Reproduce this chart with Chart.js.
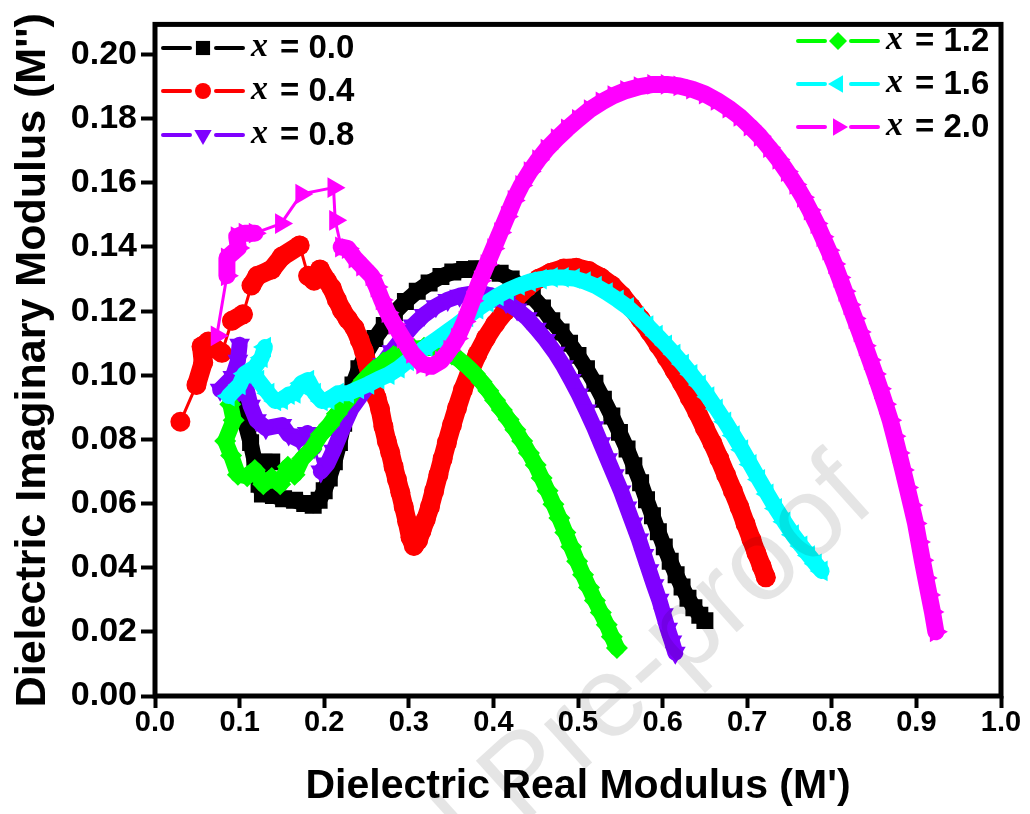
<!DOCTYPE html>
<html>
<head>
<meta charset="utf-8">
<title>Dielectric modulus Cole-Cole plot</title>
<script src="https://cdn.jsdelivr.net/npm/chart.js@4.4.0/dist/chart.umd.min.js"></script>
<style>
  html, body { margin: 0; padding: 0; background: #ffffff; }
</style>
</head>
<body>
<canvas id="modulus_plot" width="1030" height="814"></canvas>
<script>
// axis ticks
const xTicks = [0, 0.1, 0.2, 0.3, 0.4, 0.5, 0.6, 0.7, 0.8, 0.9, 1.0]
const yTicks = [0, 0.02, 0.04, 0.06, 0.08, 0.10, 0.12, 0.14, 0.16, 0.18, 0.20]

const seriesLabels = ['0.0', '0.4', '0.8', '1.2', '1.6', '2.0']

// x = 0.0
const mReal00 = [0.095,0.099,0.106,0.113,0.118,0.138,0.123,0.127,0.140,0.152,0.165,0.177,0.187,0.194,0.200,0.206,0.212,0.218,0.223,0.228,0.234,0.241,0.250,0.260,0.271,0.283,0.296,0.310,0.324,0.338,0.352,0.366,0.380,0.394,0.408,0.421,0.434,0.446,0.458,0.469,0.480,0.490,0.500,0.510,0.520,0.530,0.540,0.549,0.558,0.566,0.574,0.581,0.588,0.595,0.602,0.609,0.616,0.623,0.630,0.637,0.644,0.650]
const mImag00 = [0.099,0.092,0.086,0.079,0.073,0.073,0.066,0.063,0.0625,0.0615,0.061,0.060,0.0595,0.061,0.064,0.068,0.073,0.079,0.085,0.091,0.097,0.102,0.107,0.1115,0.1155,0.1195,0.123,0.1262,0.1288,0.1308,0.1322,0.133,0.1332,0.1328,0.1318,0.130,0.1275,0.1245,0.121,0.117,0.1135,0.110,0.1062,0.102,0.0975,0.0925,0.0873,0.0822,0.077,0.0718,0.0665,0.0612,0.0562,0.0512,0.0465,0.042,0.0378,0.034,0.0305,0.0275,0.0252,0.0235]

// x = 0.4
const mReal04 = [0.030,0.049,0.057,0.055,0.063,0.070,0.079,0.091,0.104,0.114,0.121,0.138,0.150,0.171,0.181,0.188,0.195,0.203,0.209,0.215,0.221,0.228,0.236,0.242,0.247,0.251,0.256,0.262,0.266,0.270,0.274,0.278,0.282,0.286,0.290,0.294,0.298,0.302,0.306,0.311,0.315,0.320,0.325,0.330,0.335,0.340,0.345,0.351,0.357,0.364,0.372,0.381,0.391,0.402,0.414,0.427,0.440,0.454,0.468,0.483,0.498,0.513,0.527,0.540,0.552,0.563,0.574,0.585,0.595,0.605,0.614,0.623,0.632,0.641,0.650,0.659,0.667,0.675,0.683,0.691,0.698,0.705,0.711,0.717,0.722]
const mImag04 = [0.0855,0.097,0.104,0.109,0.1105,0.1085,0.107,0.117,0.119,0.128,0.131,0.133,0.137,0.1405,0.131,0.1295,0.133,0.1295,0.1272,0.1235,0.1203,0.1175,0.1147,0.111,0.1075,0.1035,0.098,0.093,0.0895,0.084,0.0795,0.076,0.0715,0.0675,0.0635,0.059,0.0545,0.0495,0.0468,0.0485,0.0515,0.055,0.059,0.064,0.069,0.074,0.079,0.0845,0.0898,0.0955,0.101,0.1065,0.1115,0.116,0.120,0.1242,0.1275,0.1302,0.132,0.1333,0.1335,0.1325,0.1305,0.128,0.1248,0.1212,0.1175,0.1135,0.1095,0.1055,0.1015,0.0975,0.093,0.0885,0.0835,0.0788,0.074,0.069,0.064,0.0588,0.0537,0.0488,0.0445,0.0405,0.037]

// x = 0.8
const mReal08 = [0.100,0.098,0.092,0.077,0.096,0.107,0.113,0.120,0.131,0.150,0.158,0.170,0.180,0.188,0.196,0.204,0.211,0.218,0.225,0.232,0.240,0.249,0.259,0.269,0.280,0.292,0.305,0.318,0.332,0.346,0.360,0.374,0.388,0.402,0.415,0.428,0.440,0.451,0.462,0.473,0.483,0.492,0.501,0.510,0.519,0.527,0.535,0.543,0.551,0.558,0.565,0.572,0.578,0.584,0.590,0.596,0.601,0.606,0.611,0.615]
const mImag08 = [0.1095,0.1045,0.0995,0.0955,0.094,0.097,0.0905,0.086,0.0835,0.0845,0.0815,0.080,0.082,0.0775,0.070,0.0725,0.0765,0.081,0.0855,0.0895,0.0925,0.0958,0.0995,0.1035,0.1075,0.1115,0.1155,0.1188,0.1215,0.1235,0.1248,0.1255,0.1255,0.1245,0.1228,0.1205,0.1178,0.1145,0.111,0.107,0.1028,0.0985,0.094,0.089,0.0838,0.0788,0.0738,0.0688,0.0638,0.0588,0.0538,0.0488,0.044,0.0392,0.0345,0.030,0.0255,0.021,0.017,0.0135]

// x = 1.2
const mReal12 = [0.089,0.093,0.083,0.090,0.098,0.109,0.118,0.128,0.138,0.148,0.157,0.165,0.174,0.185,0.196,0.206,0.215,0.225,0.236,0.247,0.258,0.270,0.282,0.294,0.306,0.318,0.330,0.341,0.351,0.360,0.369,0.378,0.386,0.394,0.402,0.410,0.418,0.426,0.434,0.442,0.450,0.457,0.464,0.471,0.478,0.485,0.492,0.499,0.506,0.513,0.520,0.527,0.534,0.540,0.546]
const mImag12 = [0.091,0.086,0.0795,0.075,0.069,0.0685,0.0705,0.066,0.068,0.066,0.0715,0.069,0.074,0.077,0.0815,0.0845,0.088,0.0915,0.095,0.0985,0.1015,0.104,0.106,0.1073,0.1082,0.1086,0.1085,0.1078,0.1065,0.1048,0.1028,0.1005,0.098,0.0952,0.0922,0.0892,0.0862,0.083,0.0795,0.0758,0.072,0.068,0.064,0.0598,0.0555,0.051,0.0465,0.042,0.0378,0.0338,0.0298,0.026,0.0222,0.0185,0.015]

// x = 1.6
const mReal16 = [0.087,0.100,0.106,0.118,0.126,0.130,0.122,0.134,0.142,0.150,0.158,0.165,0.173,0.181,0.189,0.197,0.205,0.216,0.228,0.240,0.252,0.264,0.276,0.288,0.299,0.310,0.321,0.333,0.345,0.357,0.369,0.381,0.393,0.405,0.417,0.430,0.443,0.456,0.469,0.482,0.495,0.508,0.521,0.534,0.547,0.559,0.571,0.582,0.593,0.604,0.614,0.624,0.634,0.644,0.654,0.664,0.674,0.684,0.694,0.704,0.714,0.724,0.734,0.744,0.754,0.764,0.773,0.781,0.788]
const mImag16 = [0.0935,0.097,0.1005,0.1025,0.1055,0.1088,0.0985,0.0944,0.092,0.0924,0.094,0.0944,0.0975,0.0985,0.0944,0.092,0.0924,0.0944,0.0944,0.0958,0.0972,0.0988,0.1002,0.1022,0.1045,0.1068,0.109,0.1112,0.1135,0.1158,0.1182,0.1206,0.1228,0.1248,0.1265,0.128,0.1292,0.130,0.1305,0.1305,0.1302,0.1292,0.1278,0.1258,0.1235,0.1212,0.1183,0.1155,0.1125,0.1095,0.1066,0.1035,0.1003,0.097,0.0933,0.0895,0.0855,0.0812,0.0768,0.0722,0.0675,0.063,0.0585,0.0543,0.0503,0.0468,0.0438,0.0412,0.039]

// x = 2.0
const mReal20 = [0.073,0.085,0.085,0.0985,0.0966,0.106,0.118,0.149,0.173,0.211,0.213,0.220,0.228,0.236,0.245,0.256,0.262,0.268,0.275,0.283,0.293,0.304,0.316,0.327,0.338,0.348,0.357,0.366,0.375,0.384,0.392,0.400,0.408,0.416,0.424,0.433,0.443,0.453,0.463,0.475,0.487,0.500,0.514,0.528,0.542,0.557,0.573,0.589,0.605,0.620,0.635,0.650,0.664,0.678,0.691,0.703,0.715,0.726,0.737,0.747,0.757,0.766,0.774,0.782,0.789,0.796,0.803,0.809,0.815,0.821,0.827,0.833,0.839,0.845,0.851,0.857,0.863,0.869,0.874,0.879,0.884,0.889,0.894,0.899,0.903,0.907,0.911,0.915,0.919,0.923]
const mImag20 = [0.1123,0.131,0.1366,0.1397,0.1432,0.1443,0.1443,0.1473,0.1565,0.1585,0.1483,0.140,0.1395,0.1365,0.134,0.131,0.1275,0.1235,0.1195,0.1158,0.1115,0.1068,0.1035,0.1028,0.1045,0.1078,0.1115,0.1168,0.1232,0.1295,0.1345,0.1395,0.1445,0.1495,0.1545,0.1592,0.1635,0.1672,0.1705,0.1738,0.1768,0.1798,0.1828,0.1852,0.1872,0.1888,0.190,0.1907,0.1907,0.1902,0.1892,0.1877,0.1857,0.1833,0.1807,0.1777,0.1745,0.171,0.1673,0.1635,0.1595,0.1555,0.1515,0.1473,0.1432,0.139,0.1347,0.1305,0.1262,0.122,0.1177,0.1135,0.1092,0.1048,0.1004,0.0958,0.091,0.086,0.081,0.0758,0.0705,0.065,0.0595,0.0538,0.048,0.0423,0.0368,0.0315,0.0262,0.020]

const sansFont = "'Liberation Sans', Arial, sans-serif"
const serifFont = "'Liberation Serif', 'Times New Roman', serif"

function pairs(xs, ys) {
    return xs.map((v, i) => ({ x: v, y: ys[i] }))
}

// style per series: colour, marker, rotation, plot radius, legend radius, band width
const styles = [
    { color: '#000000', shape: 'rect',     rot: 0,   r: 12, lr: 10, band: 16 },
    { color: '#ff0000', shape: 'circle',   rot: 0,   r: 10, lr: 8,  band: 19 },
    { color: '#7f00ff', shape: 'triangle', rot: 180, r: 12, lr: 10, band: 16 },
    { color: '#00ff00', shape: 'rectRot',  rot: 0,   r: 11, lr: 9,  band: 16 },
    { color: '#00ffff', shape: 'triangle', rot: 270, r: 12, lr: 10, band: 16 },
    { color: '#ff00ff', shape: 'triangle', rot: 90,  r: 12, lr: 10, band: 17 }
]

const seriesData = [
    pairs(mReal00, mImag00),
    pairs(mReal04, mImag04),
    pairs(mReal08, mImag08),
    pairs(mReal12, mImag12),
    pairs(mReal16, mImag16),
    pairs(mReal20, mImag20)
]

// where the markers sit close together they merge into a solid band,
// where they are far apart only the thin connecting line shows
function segmentWidth(band) {
    return c => {
        const d = Math.hypot(c.p1.x - c.p0.x, c.p1.y - c.p0.y)
        return d < 24 ? band : 3
    }
}

const datasets = seriesData.map((d, i) => ({
    label: 'x = ' + seriesLabels[i],
    data: d,
    showLine: true,
    borderColor: styles[i].color,
    borderWidth: 3,
    borderCapStyle: 'round',
    borderJoinStyle: 'round',
    backgroundColor: styles[i].color,
    pointStyle: styles[i].shape,
    pointRotation: styles[i].rot,
    pointRadius: styles[i].r,
    pointHoverRadius: styles[i].r,
    pointBackgroundColor: styles[i].color,
    pointBorderWidth: 0,
    tension: 0,
    segment: { borderWidth: segmentWidth(styles[i].band) },
    order: 6 - i   // later series drawn on top
}))

// legend slots: start of sample line and row centre
const legendSlots = [
    { x: 163, y: 48 }, { x: 163, y: 91 }, { x: 163, y: 135 },
    { x: 798, y: 41 }, { x: 798, y: 84 }, { x: 798, y: 127 }
]

const framePlugin = {
    id: 'frame',
    afterDraw(chart) {
        const { ctx, chartArea: a } = chart
        ctx.save()
        ctx.strokeStyle = '#000'
        ctx.lineWidth = 5
        ctx.strokeRect(a.left, a.top, a.right - a.left, a.bottom - a.top)
        ctx.restore()
    }
}

const legendPlugin = {
    id: 'cornerLegend',
    afterDraw(chart) {
        const ctx = chart.ctx
        styles.forEach((s, i) => {
            const slot = legendSlots[i]
            const mid = slot.x + 40
            ctx.save()
            ctx.strokeStyle = s.color
            ctx.fillStyle = s.color
            ctx.lineWidth = 4
            ctx.lineCap = 'round'
            ctx.beginPath()
            ctx.moveTo(slot.x, slot.y)
            ctx.lineTo(mid - 13, slot.y)
            ctx.moveTo(mid + 13, slot.y)
            ctx.lineTo(slot.x + 80, slot.y)
            ctx.stroke()
            Chart.helpers.drawPoint(ctx, { pointStyle: s.shape, rotation: s.rot, radius: s.lr, borderWidth: 0 }, mid, slot.y)

            ctx.fillStyle = '#000'
            ctx.textBaseline = 'middle'
            ctx.textAlign = 'left'
            ctx.font = 'italic bold 34px ' + serifFont
            ctx.fillText('x', slot.x + 88, slot.y - 1)
            ctx.font = 'bold 33px ' + sansFont
            ctx.fillText('= ' + seriesLabels[i], slot.x + 117, slot.y + 1)
            ctx.restore()
        })
    }
}

const watermarkPlugin = {
    id: 'watermark',
    afterDraw(chart) {
        const ctx = chart.ctx
        ctx.save()
        ctx.translate(878, 505)
        ctx.rotate(-42 * Math.PI / 180)
        ctx.font = '115px ' + sansFont
        ctx.fillStyle = 'rgba(0, 0, 0, 0.1)'
        ctx.textAlign = 'right'
        ctx.textBaseline = 'alphabetic'
        ctx.fillText('Journal Pre-proof', 0, 0)
        ctx.restore()
    }
}

const ctx = document.getElementById('modulus_plot').getContext('2d')
const chart = new Chart(ctx, {
    type: 'scatter',
    data: { datasets: datasets },
    options: {
        responsive: false,
        animation: false,
        layout: { padding: { top: 10, right: 29, left: 0, bottom: 0 } },
        plugins: {
            legend: { display: false },
            tooltip: { enabled: false }
        },
        scales: {
            x: {
                type: 'linear',
                min: 0,
                max: 1.0,
                afterBuildTicks: axis => { axis.ticks = xTicks.map(v => ({ value: v })) },
                afterFit: axis => { axis.height = 118 },
                border: { display: false },
                grid: { drawOnChartArea: false, drawTicks: true, tickLength: 12, tickWidth: 4, tickColor: '#000' },
                ticks: {
                    color: '#000',
                    padding: -2,
                    maxRotation: 0,
                    font: { family: sansFont, size: 29, weight: 'bold' },
                    callback: v => v.toFixed(1)
                },
                title: {
                    display: true,
                    text: "Dielectric Real Modulus (M')",
                    color: '#000',
                    font: { family: sansFont, size: 41, weight: 'bold' },
                    padding: { top: 0, bottom: 3 }
                }
            },
            y: {
                type: 'linear',
                min: 0,
                max: 0.2094,
                afterBuildTicks: axis => { axis.ticks = yTicks.map(v => ({ value: v })) },
                afterFit: axis => { axis.width = 155 },
                border: { display: false },
                grid: { drawOnChartArea: false, drawTicks: true, tickLength: 14, tickWidth: 4, tickColor: '#000' },
                ticks: {
                    color: '#000',
                    padding: 4,
                    font: { family: sansFont, size: 34, weight: 'bold' },
                    callback: v => v.toFixed(2)
                },
                title: {
                    display: true,
                    text: "Dielectric Imaginary Modulus (M'')",
                    color: '#000',
                    font: { family: sansFont, size: 43, weight: 'bold' },
                    padding: { top: 7, bottom: 0 }
                }
            }
        }
    },
    plugins: [framePlugin, legendPlugin, watermarkPlugin]
})
</script>
</body>
</html>
